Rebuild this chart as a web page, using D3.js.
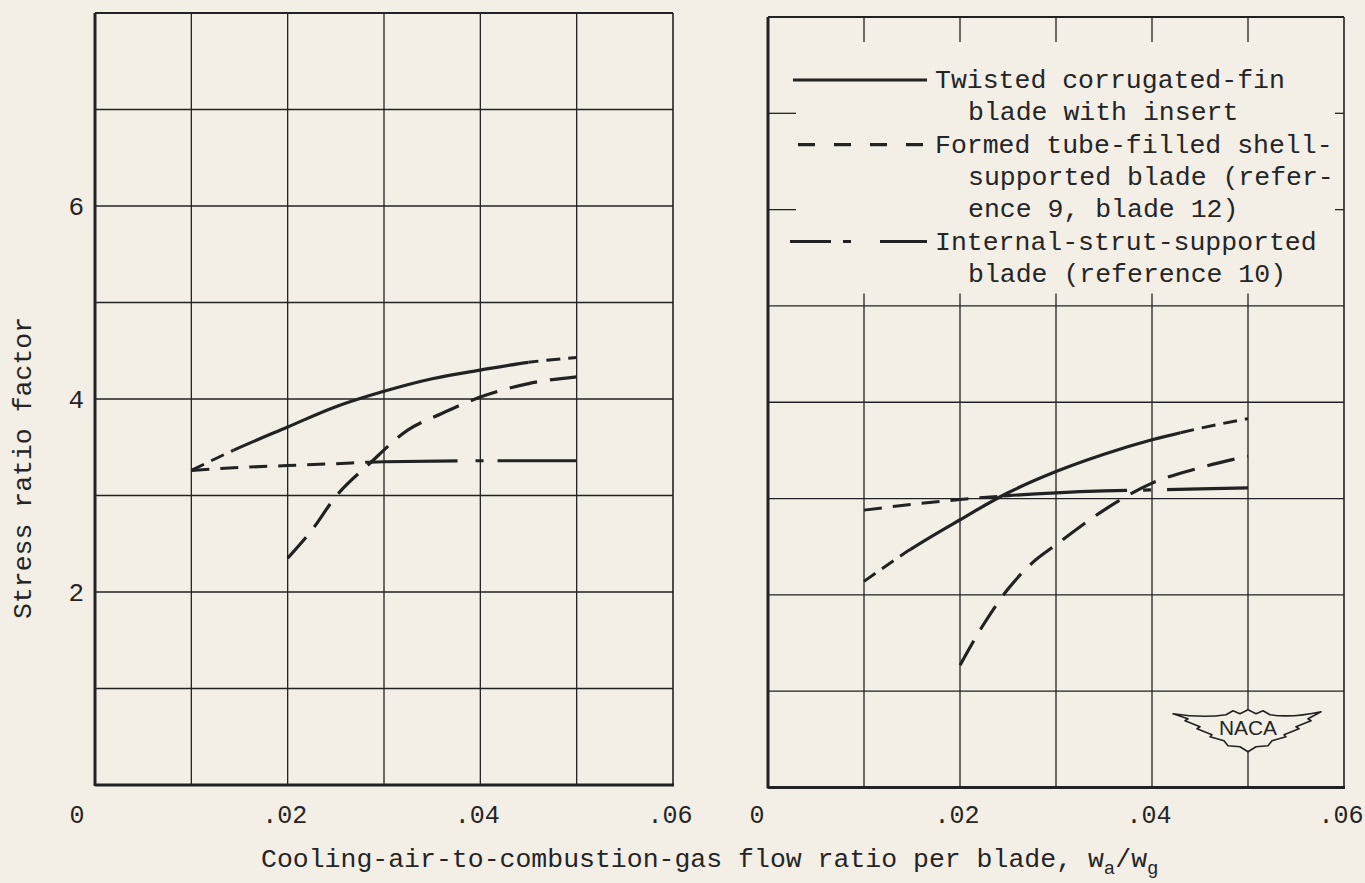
<!DOCTYPE html>
<html>
<head>
<meta charset="utf-8">
<script src="https://cdn.jsdelivr.net/npm/d3@7"></script>
<style>
  html, body { margin: 0; padding: 0; background: #f3efe6; }
  svg { display: block; }
  text { font-family: "Liberation Mono", "DejaVu Sans Mono", monospace; fill: #252525; }
</style>
</head>
<body>
<svg id="chart" width="1365" height="883"></svg>
<script>
// flow ratio (x) and stress ratio factor (y)
var twistedLeftX  = [.010, .0144, .020, .025, .030, .035, .040, .045, .050];
var twistedLeftY  = [3.26, 3.47, 3.71, 3.92, 4.08, 4.21, 4.30, 4.38, 4.43];
var formedLeftX   = [.020, .0225, .025, .0285, .0325, .036, .040, .045, .050];
var formedLeftY   = [2.35, 2.64, 2.99, 3.33, 3.68, 3.85, 4.02, 4.16, 4.23];
var strutLeftX    = [.010, .015, .020, .025, .030, .040, .050];
var strutLeftY    = [3.26, 3.29, 3.31, 3.33, 3.35, 3.36, 3.36];

var twistedRightX = [.010, .0148, .020, .025, .030, .035, .040, .045, .050];
var twistedRightY = [2.14, 2.47, 2.78, 3.06, 3.28, 3.46, 3.61, 3.73, 3.83];
var formedRightX  = [.020, .0225, .025, .0275, .030, .035, .040, .045, .050];
var formedRightY  = [1.27, 1.70, 2.06, 2.33, 2.52, 2.88, 3.16, 3.32, 3.44];
var strutRightX   = [.010, .015, .020, .025, .030, .035, .040, .045, .050];
var strutRightY   = [2.88, 2.94, 2.99, 3.03, 3.06, 3.08, 3.09, 3.10, 3.11];

// part of each curve drawn in its own line style (the rest is short dashed)
var twistedLeftRange  = [.0144, .045];
var strutLeftRange    = [.0285, .050];
var twistedRightRange = [.0148, .043];
var strutRightRange   = [.0245, .050];

var xTicks = [0, .02, .04, .06];
var xTickLabels = ["0", ".02", ".04", ".06"];
var yTicks = [2, 4, 6];
var xGrid = [.01, .02, .03, .04, .05];
var yGrid = [1, 2, 3, 4, 5, 6, 7];

var legendLines = [
  ["Twisted corrugated-fin", "blade with insert"],
  ["Formed tube-filled shell-", "supported blade (refer-", "ence 9, blade 12)"],
  ["Internal-strut-supported", "blade (reference 10)"]
];

var ink = "#222";
var paper = "#f3efe6";

var svg = d3.select("#chart");
svg.append("rect").attr("width", 1365).attr("height", 883).attr("fill", paper);

var panels = [
  { name: "L", left: 95, right: 673, bottom: 785, top: 13, zeroDx: -18 },
  { name: "R", left: 768, right: 1344, bottom: 787.5, top: 17, zeroDx: -11 }
];
panels.forEach(function (p) {
  p.x = d3.scaleLinear().domain([0, .06]).range([p.left, p.right]);
  p.y = d3.scaleLinear().domain([0, 8]).range([p.bottom, p.top]);
});

function pairs(xs, ys) { return xs.map(function (x, i) { return [x, ys[i]]; }); }

// find length along a path where it reaches a given pixel x
function lengthAtX(node, px) {
  var lo = 0, hi = node.getTotalLength();
  for (var i = 0; i < 40; i++) {
    var mid = (lo + hi) / 2;
    if (node.getPointAtLength(mid).x < px) lo = mid; else hi = mid;
  }
  return lo;
}

function drawCurve(g, p, xs, ys, range, mainDash, extDash, id) {
  var line = d3.line()
    .x(function (d) { return p.x(d[0]); })
    .y(function (d) { return p.y(d[1]); })
    .curve(d3.curveMonotoneX);
  var d = line(pairs(xs, ys));
  var defs = svg.select("defs").empty() ? svg.append("defs") : svg.select("defs");
  var a = p.x(range[0]), b = p.x(range[1]);

  var cin = defs.append("clipPath").attr("id", id + "in");
  cin.append("rect").attr("x", a).attr("y", 0).attr("width", b - a).attr("height", 883);
  var cout = defs.append("clipPath").attr("id", id + "out");
  cout.append("rect").attr("x", 0).attr("y", 0).attr("width", a).attr("height", 883);
  cout.append("rect").attr("x", b).attr("y", 0).attr("width", 1365 - b).attr("height", 883);

  var main = g.append("path").attr("d", d)
    .attr("fill", "none").attr("stroke", ink).attr("stroke-width", 3.2)
    .attr("clip-path", "url(#" + id + "in)");
  if (mainDash) {
    var off = lengthAtX(main.node(), a);
    main.attr("stroke-dasharray", mainDash).attr("stroke-dashoffset", -off);
  }
  g.append("path").attr("d", d)
    .attr("fill", "none").attr("stroke", ink).attr("stroke-width", 3)
    .attr("stroke-dasharray", extDash)
    .attr("clip-path", "url(#" + id + "out)");
}

panels.forEach(function (p) {
  var g = svg.append("g");
  var full = p.name === "L";

  // grid
  xGrid.forEach(function (v) {
    if (full) {
      g.append("line").attr("x1", p.x(v)).attr("x2", p.x(v))
        .attr("y1", p.y(8)).attr("y2", p.y(0))
        .attr("stroke", ink).attr("stroke-width", 1.3);
    } else {
      g.append("line").attr("x1", p.x(v)).attr("x2", p.x(v))
        .attr("y1", p.y(5.13)).attr("y2", p.y(0))
        .attr("stroke", ink).attr("stroke-width", 1.3);
      g.append("line").attr("x1", p.x(v)).attr("x2", p.x(v))
        .attr("y1", p.y(8)).attr("y2", p.y(8) + 25)
        .attr("stroke", ink).attr("stroke-width", 1.3);
    }
  });
  yGrid.forEach(function (v) {
    if (full || v <= 5) {
      g.append("line").attr("x1", p.x(0)).attr("x2", p.x(.06))
        .attr("y1", p.y(v)).attr("y2", p.y(v))
        .attr("stroke", ink).attr("stroke-width", 1.3);
    } else {
      g.append("line").attr("x1", p.x(0)).attr("x2", p.x(0) + 28)
        .attr("y1", p.y(v)).attr("y2", p.y(v))
        .attr("stroke", ink).attr("stroke-width", 1.3);
      g.append("line").attr("x1", p.x(.06) - 9).attr("x2", p.x(.06))
        .attr("y1", p.y(v)).attr("y2", p.y(v))
        .attr("stroke", ink).attr("stroke-width", 1.3);
    }
  });

  // frame
  g.append("line").attr("x1", p.x(0)).attr("x2", p.x(0)).attr("y1", p.y(8)).attr("y2", p.y(0) + 1)
    .attr("stroke", ink).attr("stroke-width", 3);
  g.append("line").attr("x1", p.x(0)).attr("x2", p.x(.06) + 1).attr("y1", p.y(0)).attr("y2", p.y(0))
    .attr("stroke", ink).attr("stroke-width", 3);
  g.append("line").attr("x1", p.x(0)).attr("x2", p.x(.06)).attr("y1", p.y(8)).attr("y2", p.y(8))
    .attr("stroke", ink).attr("stroke-width", 2);
  g.append("line").attr("x1", p.x(.06)).attr("x2", p.x(.06)).attr("y1", p.y(8)).attr("y2", p.y(0))
    .attr("stroke", ink).attr("stroke-width", 1.6);

  // x tick labels
  xTicks.forEach(function (v, i) {
    g.append("text").attr("x", p.x(v) + (v === 0 ? p.zeroDx : -3)).attr("y", 823)
      .attr("text-anchor", "middle").attr("font-size", 25).text(xTickLabels[i]);
  });
});

// y tick labels, left panel only
yTicks.forEach(function (v) {
  var p = panels[0];
  svg.append("text").attr("x", p.x(0) - 11).attr("y", p.y(v)).attr("dy", "0.36em")
    .attr("text-anchor", "end").attr("font-size", 26).text(v);
});

var L = panels[0], R = panels[1];
var gl = svg.append("g"), gr = svg.append("g");

drawCurve(gl, L, twistedLeftX, twistedLeftY, twistedLeftRange, null, "14,8", "tl");
drawCurve(gl, L, formedLeftX, formedLeftY, [.02, .05], "28,13", "28,13", "fl");
drawCurve(gl, L, strutLeftX, strutLeftY, strutLeftRange, "88,18,8,14,300", "18,11", "sl");

// NACA emblem, right panel corner (sits on the grid, hides it)
var logo = gr.append("g").attr("transform", "translate(" + R.x(.05) + "," + (R.y(0.6) - 2) + ")");
logo.append("path")
  .attr("d", "M-75,-14 C-55,-11 -35,-11 -22,-13 L-15,-17 L-8,-14 L0,-18 L8,-14 L15,-17 L22,-13 " +
    "C35,-11 55,-12 73,-16 L60,-9 L63,-7 L48,-1 L51,1 L36,7 L38,9 L24,13 L20,18 L8,19 L0,24 " +
    "L-8,19 L-20,18 L-24,13 L-38,9 L-36,7 L-51,1 L-48,-1 L-63,-7 L-60,-9 Z")
  .attr("fill", paper).attr("stroke", ink).attr("stroke-width", 1.6).attr("stroke-linejoin", "round");
logo.append("text").attr("x", 0).attr("y", 7).attr("text-anchor", "middle")
  .attr("font-size", 20).attr("textLength", 58).attr("lengthAdjust", "spacingAndGlyphs")
  .style("font-family", "'Liberation Sans', Arial, sans-serif").text("NACA");

drawCurve(gr, R, twistedRightX, twistedRightY, twistedRightRange, null, "14,8", "tr");
drawCurve(gr, R, formedRightX, formedRightY, [.02, .05], "28,13", "28,13", "fr");
drawCurve(gr, R, strutRightX, strutRightY, strutRightRange, "124,16,8,16,300", "18,11", "sr");

// legend
var leg = svg.append("g");
var rowH = 32.3, firstBase = 88, textX = 935, contX = 968;
var legendDash = [null, "17,19", "41,12,8,29,60"];
var legendX0 = [793, 798, 790];
var row = 0;
legendLines.forEach(function (lines, k) {
  var base = firstBase + row * rowH;
  leg.append("line").attr("x1", legendX0[k]).attr("x2", 927)
    .attr("y1", base - 8).attr("y2", base - 8)
    .attr("stroke", ink).attr("stroke-width", 3.2)
    .attr("stroke-dasharray", legendDash[k]);
  lines.forEach(function (t, j) {
    leg.append("text").attr("x", j === 0 ? textX : contX).attr("y", firstBase + row * rowH)
      .attr("font-size", 26.5).text(t);
    row++;
  });
});

// axis titles
svg.append("text").attr("transform", "translate(31,468) rotate(-90)")
  .attr("text-anchor", "middle").attr("font-size", 26.5).text("Stress ratio factor");

var xt = svg.append("text").attr("x", 261).attr("y", 867).attr("font-size", 26.5);
xt.append("tspan").text("Cooling-air-to-combustion-gas flow ratio per blade, w");
xt.append("tspan").attr("font-size", 19).attr("dy", 7).text("a");
xt.append("tspan").attr("dy", -7).text("/w");
xt.append("tspan").attr("font-size", 19).attr("dy", 7).text("g");
</script>
</body>
</html>
